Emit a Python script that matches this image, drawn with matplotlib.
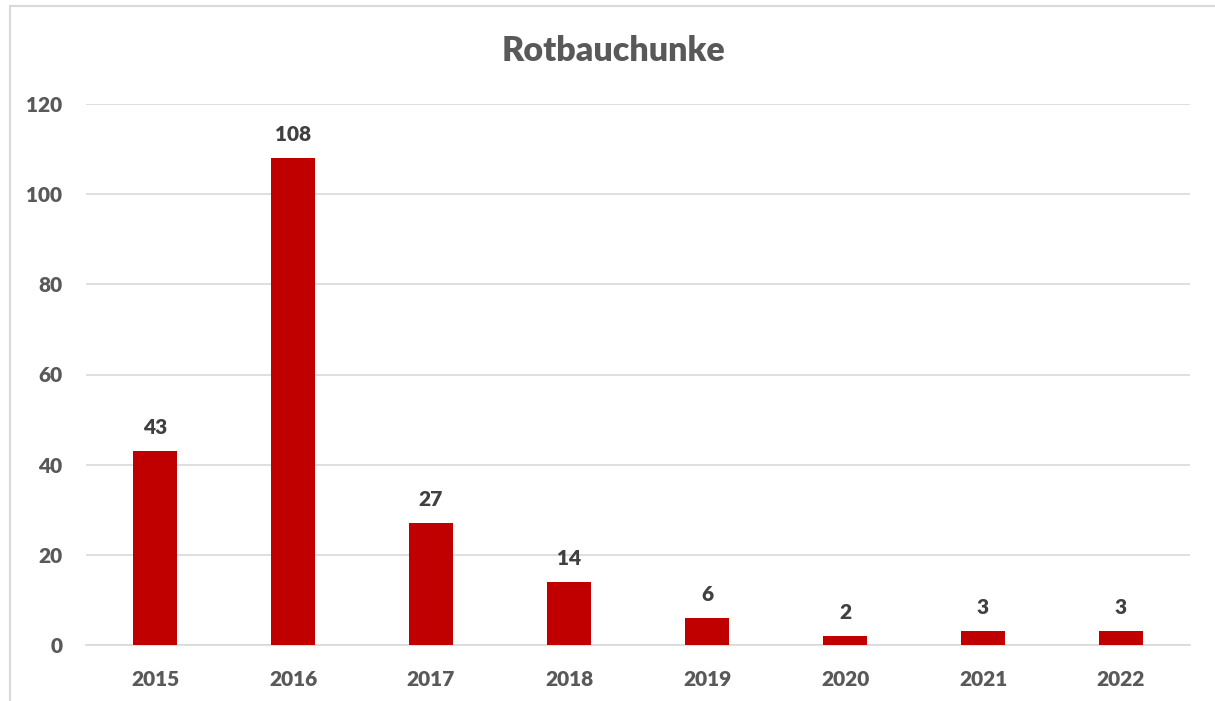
import numpy as np
import matplotlib.pyplot as plt
import matplotlib as mpl

plt.rcParams['font.family'] = ['Lato', 'DejaVu Sans']
plt.rcParams['font.weight'] = 'bold'

# Rotbauchunke - Anzahl je Jahr
years = ['2015', '2016', '2017', '2018', '2019', '2020', '2021', '2022']
counts = [43, 108, 27, 14, 6, 2, 3, 3]

bar_color = '#C00000'
text_color = '#595959'
grid_color = '#D9D9D9'

fig = plt.figure(figsize=(12.15, 7.01), dpi=100)

# Rahmen des Diagrammbereichs
frame = mpl.patches.Rectangle((10/1215, -0.1), 1.2, 1 - 6/701 + 0.1,
                              transform=fig.transFigure, fill=False,
                              edgecolor='#D9D9D9', linewidth=1.5)
fig.patches.append(frame)

ax = fig.add_axes([86/1215, 1 - 645/701, (1190 - 86)/1215, (645 - 104)/701])

x = np.arange(len(years))
bars = ax.bar(x, counts, width=0.32, color=bar_color, zorder=3)

ax.set_xlim(-0.5, len(years) - 0.5)
ax.set_ylim(0, 120)
ax.set_yticks(np.arange(0, 121, 20))
ax.set_xticks(x)
ax.set_xticklabels(years)

ax.grid(axis='y', color=grid_color, linewidth=1.2, zorder=0)
for s in ['top', 'right', 'left']:
    ax.spines[s].set_visible(False)
ax.spines['bottom'].set_color(grid_color)
ax.spines['bottom'].set_linewidth(1.2)

ax.tick_params(axis='both', length=0, colors=text_color, labelsize=15)
ax.tick_params(axis='y', pad=17)
ax.tick_params(axis='x', pad=18)
for lbl in ax.get_xticklabels() + ax.get_yticklabels():
    lbl.set_fontweight('heavy')

# Werte über den Balken
for b, v in zip(bars, counts):
    ax.annotate(str(v), (b.get_x() + b.get_width()/2, v),
                xytext=(0, 17), textcoords='offset points',
                ha='center', va='center', fontsize=15,
                color='#404040', fontweight='heavy')

fig.text(614/1215, 1 - 51/701, 'Rotbauchunke', ha='center', va='center',
         fontsize=24.5, fontweight='heavy', color=text_color)

fig.savefig('out.png', dpi=100)
